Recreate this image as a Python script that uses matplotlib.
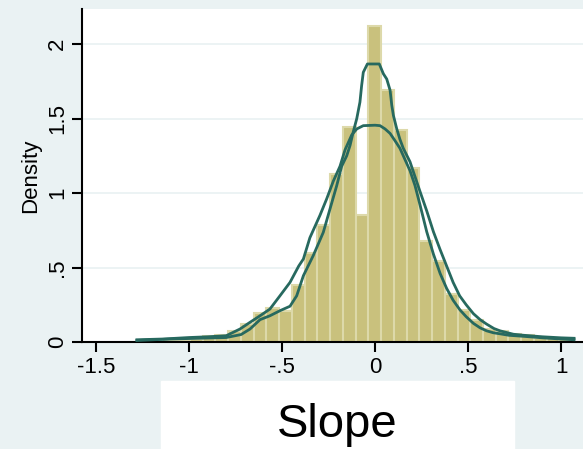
import numpy as np
import matplotlib
matplotlib.use('Agg')
import matplotlib.pyplot as plt
from matplotlib.patches import Rectangle

plt.rcParams['font.family'] = ['Liberation Sans', 'DejaVu Sans']

# histogram (density scale)
bin_start = -1.269
bin_width = 0.0685
bin_heights = [0.01, 0.0, 0.015, 0.015, 0.02, 0.04, 0.05, 0.076, 0.12, 0.195,
               0.23, 0.21, 0.38, 0.60, 0.785, 1.13, 1.44, 0.85, 2.12, 1.69,
               1.42, 1.165, 0.675, 0.545, 0.32, 0.215, 0.15, 0.09, 0.076, 0.054,
               0.045, 0.03, 0.025, 0.02]

# wide density curve
w_x = [-1.28, -1.14, -1.0, -0.9, -0.8, -0.726, -0.672, -0.618, -0.565, -0.511,
       -0.457, -0.41, -0.385, -0.35, -0.296, -0.26, -0.224, -0.188, -0.161, -0.125,
       -0.098, -0.063, 0.0, 0.027, 0.054, 0.081, 0.108, 0.134, 0.152, 0.188,
       0.215, 0.242, 0.278, 0.314, 0.35, 0.385, 0.42, 0.457, 0.49, 0.529,
       0.565, 0.60, 0.636, 0.672, 0.72, 0.8, 0.9, 1.0, 1.07]
w_y = [0.015, 0.02, 0.03, 0.035, 0.042, 0.087, 0.132, 0.176, 0.221, 0.31,
       0.40, 0.51, 0.557, 0.70, 0.85, 0.96, 1.08, 1.18, 1.29, 1.39,
       1.43, 1.452, 1.455, 1.452, 1.43, 1.40, 1.35, 1.30, 1.25, 1.15,
       1.05, 0.92, 0.74, 0.59, 0.46, 0.36, 0.28, 0.215, 0.17, 0.125,
       0.095, 0.075, 0.062, 0.055, 0.045, 0.038, 0.028, 0.02, 0.015]

# peaked density curve
p_x = [-1.28, -1.1, -0.95, -0.8, -0.72, -0.672, -0.618, -0.565, -0.511, -0.457,
       -0.421, -0.385, -0.332, -0.278, -0.242, -0.206, -0.179, -0.152, -0.134, -0.117,
       -0.098, -0.081, -0.072, -0.063, -0.041, 0.023, 0.045, 0.063, 0.081, 0.09,
       0.099, 0.117, 0.134, 0.152, 0.188, 0.215, 0.242, 0.278, 0.314, 0.35,
       0.385, 0.42, 0.455, 0.49, 0.529, 0.565, 0.60, 0.64, 0.672, 0.744,
       0.8, 0.9, 1.0, 1.07]
p_y = [0.01, 0.02, 0.025, 0.03, 0.05, 0.087, 0.15, 0.176, 0.21, 0.24,
       0.31, 0.445, 0.58, 0.736, 0.893, 1.049, 1.18, 1.25, 1.32, 1.41,
       1.50, 1.61, 1.72, 1.81, 1.866, 1.866, 1.80, 1.765, 1.69, 1.59,
       1.52, 1.43, 1.36, 1.30, 1.21, 1.11, 1.01, 0.88, 0.74, 0.62,
       0.51, 0.40, 0.31, 0.25, 0.19, 0.15, 0.12, 0.09, 0.075, 0.052,
       0.045, 0.035, 0.028, 0.025]

x_ticks = [-1.5, -1, -0.5, 0, 0.5, 1]
x_tick_labels = ['-1.5', '-1', '-.5', '0', '.5', '1']
y_ticks = [0, 0.5, 1, 1.5, 2]
y_tick_labels = ['0', '.5', '1', '1.5', '2']

bg = '#eaf2f3'
teal = '#27695f'

fig = plt.figure(figsize=(5.83, 4.49), dpi=100, facecolor=bg)
ax = fig.add_axes([82/583, 107/449, 1 - 82/583, 333/449])
ax.set_facecolor('white')

edges = bin_start + bin_width * np.arange(len(bin_heights))
ax.bar(edges, bin_heights, width=bin_width, align='edge', color='#c9c17d',
       edgecolor='#ddd9aa', linewidth=1.5, zorder=2)

ax.plot(w_x, w_y, color=teal, lw=2.0, zorder=3)
ax.plot(p_x, p_y, color=teal, lw=2.0, zorder=3)

ax.set_xlim(-1.575, 1.118)
ax.set_ylim(0, 2.235)
ax.set_xticks(x_ticks)
ax.set_xticklabels(x_tick_labels)
ax.set_yticks(y_ticks)
ax.set_yticklabels(y_tick_labels, rotation=90, va='center')

ax.yaxis.grid(True, color=bg, lw=1.3)
ax.set_axisbelow(True)
for s in ['top', 'right']:
    ax.spines[s].set_visible(False)
for s in ['left', 'bottom']:
    ax.spines[s].set_linewidth(1.5)
ax.tick_params(direction='out', length=7, width=1.5, labelsize=16)
ax.tick_params(axis='x', pad=4)
ax.tick_params(axis='y', pad=3)
ax.set_ylabel('Density', fontsize=16, labelpad=4)

fig.patches.append(Rectangle((161/583, 0), 353/583, 68/449,
                             transform=fig.transFigure, color='white', zorder=0))
fig.text(337/583, 12/449, 'Slope', ha='center', va='baseline', fontsize=34)

fig.savefig('out.png', dpi=100, facecolor=bg)
